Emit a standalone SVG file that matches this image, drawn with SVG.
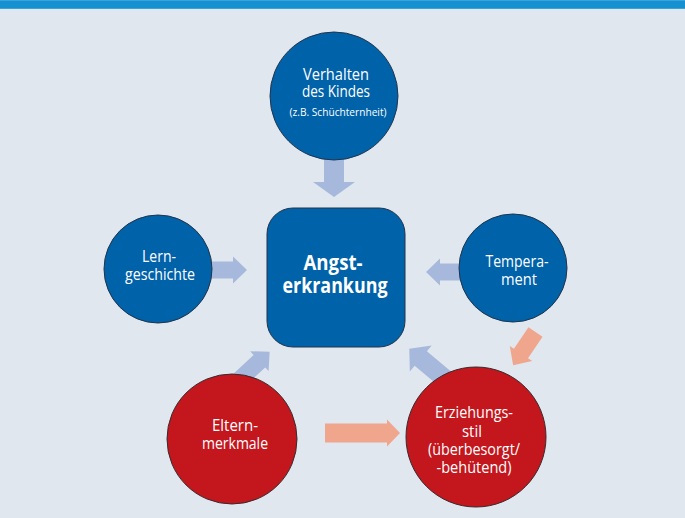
<svg xmlns="http://www.w3.org/2000/svg" width="685" height="518" viewBox="0 0 685 518">
<defs>
<style>
.bg{fill:#e0e7ef}
.blue{fill:#0062a9;stroke:#22344c;stroke-width:1}
.red{fill:#c3161d;stroke:#3a2a2e;stroke-width:1}
.ab{fill:#a6b9dc}
.as{fill:#f0a68c}
text{font-family:"Open Sans","Noto Sans","Liberation Sans",sans-serif;fill:#ffffff;text-anchor:middle}
.t{font-size:16px}
.s{font-size:11px}
.b{font-size:21px;font-weight:bold}
</style>
</defs>
<rect class="bg" x="0" y="0" width="685" height="518"/>
<rect x="0" y="0" width="685" height="9" fill="#3aa3d9"/>
<rect x="0" y="1" width="685" height="7" fill="#1590d0"/>

<g id="connectors">
<!-- down arrow from Verhalten -->
<polygon class="ab" transform="translate(334,150) rotate(90)" points="0,-10 32,-10 32,-21 47,0 32,21 32,10 0,10"/>
<!-- Lerngeschichte -> center -->
<polygon class="ab" transform="translate(200,270) rotate(0)" points="0,-8.5 33,-8.5 33,-13.5 47,0 33,13.5 33,8.5 0,8.5"/>
<!-- Temperament -> center -->
<polygon class="ab" transform="translate(470,272) rotate(180)" points="0,-8.5 30,-8.5 30,-13.5 44,0 30,13.5 30,8.5 0,8.5"/>
<!-- Elternmerkmale -> center -->
<polygon class="ab" transform="translate(236,383) rotate(-43)" points="0,-8.5 32,-8.5 32,-13.5 46,0 32,13.5 32,8.5 0,8.5"/>
<!-- Erziehungsstil -> center -->
<polygon class="ab" transform="translate(456,388) rotate(220)" points="0,-9.5 46,-9.5 46,-17 61,0 46,17 46,9.5 0,9.5"/>
<!-- Temperament -> Erziehungsstil -->
<polygon class="as" transform="translate(535.5,332) rotate(124)" points="0,-8.5 26,-8.5 26,-13.5 40,0 26,13.5 26,8.5 0,8.5"/>
<!-- Elternmerkmale -> Erziehungsstil -->
<polygon class="as" transform="translate(325,433) rotate(0)" points="0,-9.5 62,-9.5 62,-13.5 75,0 62,13.5 62,9.5 0,9.5"/>
</g>

<g id="verhalten">
<circle class="blue" cx="334" cy="96" r="64"/>
<text class="t" x="336" y="80" textLength="66" lengthAdjust="spacingAndGlyphs">Verhalten</text>
<text class="t" x="336" y="97" textLength="68" lengthAdjust="spacingAndGlyphs">des Kindes</text>
<text class="s" x="338" y="116" textLength="97" lengthAdjust="spacingAndGlyphs">(z.B. Schüchternheit)</text>
</g>

<g id="lerngeschichte">
<circle class="blue" cx="158" cy="269" r="54"/>
<text class="t" x="159" y="262" textLength="34" lengthAdjust="spacingAndGlyphs">Lern-</text>
<text class="t" x="160" y="280" textLength="70" lengthAdjust="spacingAndGlyphs">geschichte</text>
</g>

<g id="angsterkrankung">
<rect class="blue" x="267" y="208" width="138" height="139" rx="26" ry="26"/>
<text class="b" x="333" y="270" textLength="59" lengthAdjust="spacingAndGlyphs">Angst-</text>
<text class="b" x="335" y="293" textLength="105" lengthAdjust="spacingAndGlyphs">erkrankung</text>
</g>

<g id="temperament">
<circle class="blue" cx="513" cy="268" r="54"/>
<text class="t" x="517" y="267" textLength="63" lengthAdjust="spacingAndGlyphs">Tempera-</text>
<text class="t" x="519" y="285" textLength="36" lengthAdjust="spacingAndGlyphs">ment</text>
</g>

<g id="elternmerkmale">
<circle class="red" cx="232" cy="439" r="65"/>
<text class="t" x="235" y="431" textLength="46" lengthAdjust="spacingAndGlyphs">Eltern-</text>
<text class="t" x="235" y="449" textLength="66" lengthAdjust="spacingAndGlyphs">merkmale</text>
</g>

<g id="erziehungsstil">
<circle class="red" cx="476" cy="437" r="70"/>
<text class="t" x="474" y="418" textLength="78" lengthAdjust="spacingAndGlyphs">Erziehungs-</text>
<text class="t" x="472" y="437" textLength="20" lengthAdjust="spacingAndGlyphs">stil</text>
<text class="t" x="474" y="455" textLength="92" lengthAdjust="spacingAndGlyphs">(überbesorgt/</text>
<text class="t" x="474" y="473" textLength="75" lengthAdjust="spacingAndGlyphs">-behütend)</text>
</g>
</svg>
